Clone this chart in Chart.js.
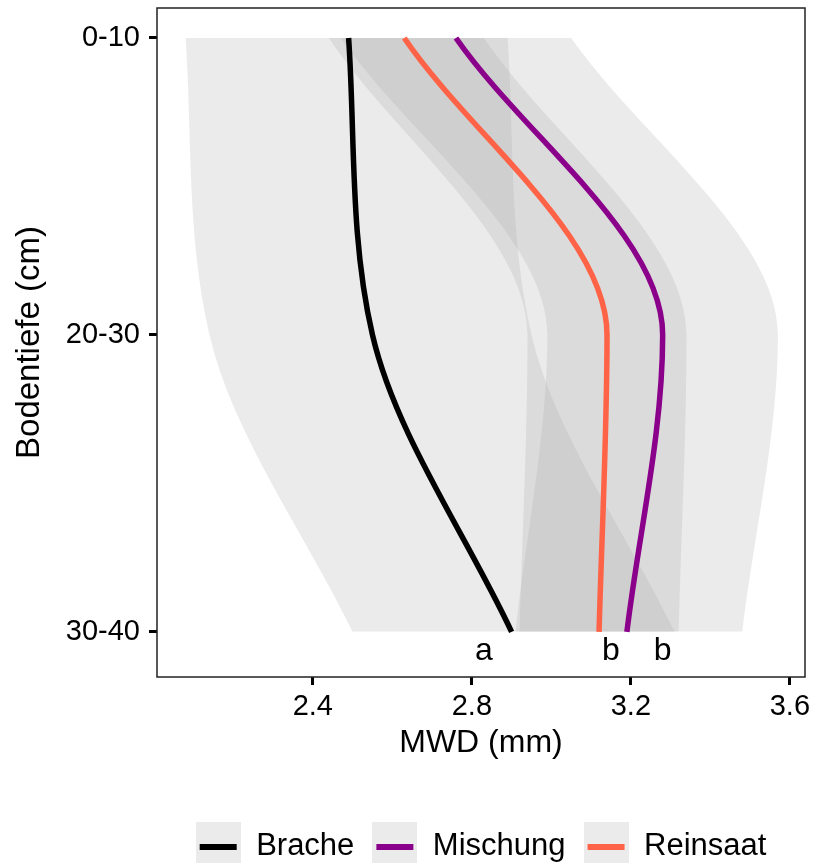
<!DOCTYPE html>
<html lang="de">
<head>
  <meta charset="UTF-8">
  <title>MWD nach Bodentiefe</title>
  <style>
    html, body { margin: 0; padding: 0; background: #fff; }
    #wrap { width: 814px; height: 863px; }
  </style>
</head>
<body>
  <div id="wrap"><canvas id="mwdChart" width="814" height="863"></canvas></div>

  <script src="https://cdn.jsdelivr.net/npm/chart.js"></script>
  <script>
    // Tiefenstufen (y) und Achsenticks (x)
    const depthLabels = ['0-10', '20-30', '30-40'];
    const depthPos = [1, 2, 3];
    const xTicks = [2.4, 2.8, 3.2, 3.6];
    const groups = ['Brache', 'Mischung', 'Reinsaat'];

    // MWD (mm): Mittelwert und Band je Variante
    const bracheMean = [2.49, 2.55, 2.90];
    const bracheLo = [2.08, 2.14, 2.50];
    const bracheHi = [2.89, 2.95, 3.31];

    const mischungMean = [2.76, 3.28, 3.19];
    const mischungLo = [2.47, 2.99, 2.91];
    const mischungHi = [3.05, 3.57, 3.48];

    const reinsaatMean = [2.63, 3.14, 3.12];
    const reinsaatLo = [2.44, 2.94, 2.92];
    const reinsaatHi = [2.83, 3.34, 3.32];

    // Buchstaben der Signifikanzgruppen
    const letterText = ['a', 'b', 'b'];
    const letterX = [2.83, 3.15, 3.28];
    const letterDepth = 3.094;

    const FONT = "'Liberation Sans', Arial, Helvetica, sans-serif";
    const BAND = 'rgba(153,153,153,0.2)';

    Chart.defaults.font.family = FONT;
    Chart.defaults.color = '#000';

    function pts(values) {
      return values.map((v, i) => ({ x: v, y: depthPos[i] }));
    }

    function meanLine(label, values, color) {
      return {
        label: label,
        data: pts(values),
        borderColor: color,
        backgroundColor: color,
        borderWidth: 5.5,
        pointRadius: 0,
        fill: false,
        cubicInterpolationMode: 'monotone'
      };
    }

    function band(label, values, fillToPrev) {
      return {
        label: label,
        data: pts(values),
        borderColor: 'rgba(0,0,0,0)',
        backgroundColor: BAND,
        borderWidth: 1,
        pointRadius: 0,
        fill: fillToPrev ? '-1' : false,
        cubicInterpolationMode: 'monotone'
      };
    }

    // grauer Legendenschluessel mit farbiger Linie
    function legendKey(color) {
      const c = document.createElement('canvas');
      c.width = 45; c.height = 48;
      const g = c.getContext('2d');
      g.fillStyle = '#ebebeb';
      g.fillRect(0, 0, 45, 48);
      g.strokeStyle = color;
      g.lineWidth = 6;
      g.beginPath(); g.moveTo(4, 25); g.lineTo(41, 25); g.stroke();
      return c;
    }

    const panelExtras = {
      id: 'panelExtras',
      afterDatasetsDraw(chart) {
        const { ctx, chartArea: a, scales: { x, y } } = chart;
        ctx.save();
        ctx.strokeStyle = '#222';
        ctx.lineWidth = 1.5;
        ctx.strokeRect(a.left, a.top, a.width, a.height);
        ctx.fillStyle = '#000';
        ctx.font = '32px ' + FONT;
        ctx.textAlign = 'center';
        ctx.textBaseline = 'alphabetic';
        letterText.forEach((t, i) => {
          ctx.fillText(t, x.getPixelForValue(letterX[i]), y.getPixelForValue(letterDepth));
        });
        ctx.restore();
      }
    };

    const colors = { Brache: '#000000', Mischung: '#8B008B', Reinsaat: '#FF6347' };

    new Chart(document.getElementById('mwdChart'), {
      type: 'line',
      data: {
        datasets: [
          meanLine('Brache', bracheMean, colors.Brache),
          meanLine('Mischung', mischungMean, colors.Mischung),
          meanLine('Reinsaat', reinsaatMean, colors.Reinsaat),
          band('Brache lo', bracheLo, false),
          band('Brache hi', bracheHi, true),
          band('Mischung lo', mischungLo, false),
          band('Mischung hi', mischungHi, true),
          band('Reinsaat lo', reinsaatLo, false),
          band('Reinsaat hi', reinsaatHi, true)
        ]
      },
      options: {
        indexAxis: 'y',
        responsive: false,
        animation: false,
        events: [],
        layout: { padding: { top: 8, right: 9, bottom: -8.5, left: 0 } },
        plugins: {
          filler: { propagate: false },
          tooltip: { enabled: false },
          legend: {
            position: 'bottom',
            fullSize: false,
            onClick: null,
            labels: {
              usePointStyle: true,
              pointStyleWidth: 45,
              padding: 18,
              font: { size: 31 },
              color: '#000',
              generateLabels: () => groups.map((g, i) => ({
                text: g,
                pointStyle: legendKey(colors[g]),
                fillStyle: colors[g],
                strokeStyle: colors[g],
                lineWidth: 0,
                hidden: false,
                datasetIndex: i,
                fontColor: '#000'
              }))
            }
          }
        },
        scales: {
          x: {
            type: 'linear',
            position: 'bottom',
            min: 2.008,
            max: 3.638,
            afterBuildTicks: s => { s.ticks = xTicks.map(v => ({ value: v })); },
            afterFit: s => { s.height = 135.5; s.paddingLeft = 0; s.paddingRight = 0; },
            ticks: {
              font: { size: 29 },
              color: '#000',
              padding: 5,
              callback: v => v.toFixed(1)
            },
            grid: { drawOnChartArea: false, tickLength: 8, tickWidth: 3, tickColor: '#000', lineWidth: 3 },
            border: { display: false },
            title: { display: true, text: 'MWD (mm)', font: { size: 32 }, color: '#000', padding: { top: 0, bottom: 50.3 } }
          },
          y: {
            type: 'linear',
            position: 'left',
            reverse: true,
            min: 0.899,
            max: 3.152,
            afterBuildTicks: s => { s.ticks = depthPos.map(v => ({ value: v })); },
            afterFit: s => { s.width = 157; s.paddingTop = 0; s.paddingBottom = 0; },
            ticks: {
              font: { size: 29 },
              color: '#000',
              padding: 9,
              callback: v => depthLabels[depthPos.indexOf(v)]
            },
            grid: { drawOnChartArea: false, tickLength: 8, tickWidth: 3, tickColor: '#000', lineWidth: 3 },
            border: { display: false },
            title: { display: true, text: 'Bodentiefe (cm)', font: { size: 33 }, color: '#000', padding: { top: 10.2, bottom: 0 } }
          }
        }
      },
      plugins: [panelExtras]
    });
  </script>
</body>
</html>
